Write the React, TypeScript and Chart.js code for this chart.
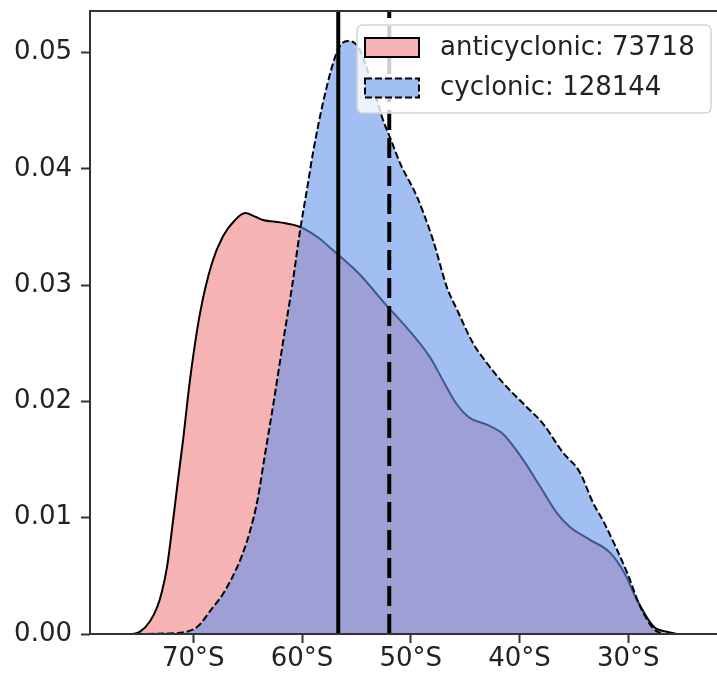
import React, { useEffect, useRef } from "react";
import { Chart, registerables } from "chart.js";

Chart.register(...registerables);

// Kernel density of eddy latitudes (degrees, negative = south)
const antiLat = [-75.55, -74.9, -73.98, -73.33, -72.9, -72.41, -72.0, -71.4, -70.94, -70.3, -69.38, -68.28, -67.27, -66.16, -65.24, -64.32, -63.59, -62.02, -60.18, -58.53, -57.15, -54.67, -52.09, -50.99, -48.23, -47.04, -45.8, -44.6, -43.0, -41.52, -39.68, -38.12, -36.56, -35.36, -33.52, -31.68, -30.39, -29.19, -27.63, -26.44, -25.52];
const antiDensity = [0, 0.0002, 0.0011, 0.0023, 0.0036, 0.0058, 0.0087, 0.0133, 0.0167, 0.0219, 0.0276, 0.0319, 0.0342, 0.0356, 0.0362, 0.0359, 0.0356, 0.0354, 0.035, 0.0341, 0.033, 0.0309, 0.0281, 0.027, 0.0238, 0.0218, 0.0198, 0.0186, 0.018, 0.0172, 0.015, 0.0127, 0.0104, 0.0092, 0.0081, 0.007, 0.0053, 0.0029, 0.0006, 0.0002, 0];

const cycLat = [-74.27, -72.15, -71.23, -69.66, -68.19, -67.3, -66.35, -65.5, -64.8, -64.1, -63.4, -62.6, -61.8, -60.9, -60.18, -59.5, -58.99, -58.07, -56.97, -56.42, -55.77, -55.13, -54.67, -53.47, -52.55, -51.91, -50.99, -49.43, -47.96, -46.67, -45.75, -44.27, -43.0, -41.52, -39.32, -37.85, -36.01, -34.45, -33.25, -32.24, -30.12, -28.92, -27.63, -26.71];
const cycDensity = [0, 0.00005, 0.0001, 0.0006, 0.0023, 0.0034, 0.005, 0.0068, 0.0088, 0.0115, 0.0155, 0.02, 0.0248, 0.03, 0.0347, 0.0385, 0.0414, 0.0457, 0.0496, 0.0507, 0.051, 0.0508, 0.0502, 0.047, 0.0442, 0.0427, 0.0405, 0.0376, 0.0339, 0.0298, 0.0279, 0.025, 0.0233, 0.0216, 0.0195, 0.0181, 0.0156, 0.0139, 0.0113, 0.0096, 0.0053, 0.0024, 0.0004, 0];

const seriesLabels = ["anticyclonic: 73718", "cyclonic: 128144"];
const meanLat = [-56.67, -51.98];

const xTicks = [-70, -60, -50, -40, -30];
const xTickLabels = ["70°S", "60°S", "50°S", "40°S", "30°S"];
const yTicks = [0, 0.01, 0.02, 0.03, 0.04, 0.05];
const yTickLabels = ["0.00", "0.01", "0.02", "0.03", "0.04", "0.05"];

const FONT = "'DejaVu Sans', sans-serif";
const FONT_SIZE = 26;
const PINK = "rgba(240,128,128,0.6)";
const BLUE = "rgba(100,149,237,0.6)";
const SPINE = "#333333";

export default function App() {
  const ref = useRef<HTMLCanvasElement | null>(null);

  useEffect(() => {
    if (!ref.current) return;

    const overlay = {
      id: "overlay",
      afterDatasetsDraw(chart: any) {
        const { ctx, chartArea: a, scales } = chart;
        const x = scales.x;
        ctx.save();
        ctx.beginPath();
        ctx.rect(a.left, a.top, a.right - a.left, a.bottom - a.top);
        ctx.clip();
        meanLat.forEach((v, i) => {
          const px = x.getPixelForValue(v);
          ctx.beginPath();
          ctx.lineWidth = 4;
          ctx.strokeStyle = "#000";
          ctx.setLineDash(i === 0 ? [] : [20, 8]);
          ctx.moveTo(px, a.bottom);
          ctx.lineTo(px, a.top);
          ctx.stroke();
        });
        ctx.restore();

        // spines
        ctx.save();
        ctx.strokeStyle = SPINE;
        ctx.lineWidth = 2;
        ctx.setLineDash([]);
        ctx.beginPath();
        ctx.moveTo(a.left, a.bottom);
        ctx.lineTo(a.left, a.top);
        ctx.lineTo(a.right, a.top);
        ctx.moveTo(a.left, a.bottom);
        ctx.lineTo(a.right, a.bottom);
        ctx.stroke();
        ctx.restore();
      },
      afterDraw(chart: any) {
        const { ctx } = chart;
        ctx.save();
        // legend frame
        const bx = 357, by = 25, bw = 354, bh = 88, r = 6;
        ctx.beginPath();
        ctx.moveTo(bx + r, by);
        ctx.lineTo(bx + bw - r, by);
        ctx.quadraticCurveTo(bx + bw, by, bx + bw, by + r);
        ctx.lineTo(bx + bw, by + bh - r);
        ctx.quadraticCurveTo(bx + bw, by + bh, bx + bw - r, by + bh);
        ctx.lineTo(bx + r, by + bh);
        ctx.quadraticCurveTo(bx, by + bh, bx, by + bh - r);
        ctx.lineTo(bx, by + r);
        ctx.quadraticCurveTo(bx, by, bx + r, by);
        ctx.closePath();
        ctx.fillStyle = "rgba(255,255,255,0.8)";
        ctx.fill();
        ctx.strokeStyle = "#d4d4d4";
        ctx.lineWidth = 1.5;
        ctx.stroke();

        const rows = [
          { y: 38, fill: PINK, dash: [] as number[], label: seriesLabels[0] },
          { y: 78.5, fill: BLUE, dash: [7, 3], label: seriesLabels[1] },
        ];
        rows.forEach((row) => {
          ctx.fillStyle = "#fff";
          ctx.fillRect(365, row.y, 54, 19);
          ctx.fillStyle = row.fill;
          ctx.fillRect(365, row.y, 54, 19);
          ctx.strokeStyle = "#000";
          ctx.lineWidth = 2;
          ctx.setLineDash(row.dash);
          ctx.strokeRect(365, row.y, 54, 19);
          ctx.setLineDash([]);
          ctx.fillStyle = "#222";
          ctx.font = `${FONT_SIZE}px ${FONT}`;
          ctx.textBaseline = "middle";
          ctx.textAlign = "left";
          ctx.fillText(row.label, 440, row.y + 10);
        });
        ctx.restore();
      },
    };

    const chart = new Chart(ref.current, {
      type: "line",
      data: {
        datasets: [
          {
            label: seriesLabels[0],
            data: antiLat.map((v, i) => ({ x: v, y: antiDensity[i] })),
            borderColor: "#000",
            borderWidth: 2,
            backgroundColor: PINK,
            fill: "origin",
            pointRadius: 0,
            cubicInterpolationMode: "monotone",
            order: 2,
          },
          {
            label: seriesLabels[1],
            data: cycLat.map((v, i) => ({ x: v, y: cycDensity[i] })),
            borderColor: "#000",
            borderWidth: 2,
            borderDash: [7, 3],
            backgroundColor: BLUE,
            fill: "origin",
            pointRadius: 0,
            cubicInterpolationMode: "monotone",
            order: 1,
          },
        ],
      },
      options: {
        responsive: false,
        animation: false,
        devicePixelRatio: 1,
        layout: { padding: { left: 0, top: 11, right: 0, bottom: 0 } },
        plugins: { legend: { display: false }, tooltip: { enabled: false } },
        scales: {
          x: {
            type: "linear",
            min: -79.5,
            max: -21.84,
            afterBuildTicks: (axis: any) => {
              axis.ticks = xTicks.map((v) => ({ value: v }));
            },
            afterFit: (axis: any) => {
              axis.height = 48;
              axis.paddingLeft = 0;
              axis.paddingRight = 0;
            },
            grid: {
              drawOnChartArea: false,
              drawTicks: true,
              tickLength: 9,
              tickWidth: 2,
              tickColor: SPINE,
            },
            border: { display: false },
            ticks: {
              padding: 1,
              maxRotation: 0,
              autoSkip: false,
              color: "#222",
              font: { family: FONT, size: FONT_SIZE },
              callback: (value: any) => {
                const i = xTicks.indexOf(Number(value));
                return i >= 0 ? xTickLabels[i] : "";
              },
            },
          },
          y: {
            type: "linear",
            min: 0,
            max: 0.05358,
            afterBuildTicks: (axis: any) => {
              axis.ticks = yTicks.map((v) => ({ value: v }));
            },
            afterFit: (axis: any) => {
              axis.width = 90;
              axis.paddingTop = 0;
              axis.paddingBottom = 0;
            },
            grid: {
              drawOnChartArea: false,
              drawTicks: true,
              tickLength: 9,
              tickWidth: 2,
              tickColor: SPINE,
            },
            border: { display: false },
            ticks: {
              padding: 9,
              autoSkip: false,
              color: "#222",
              font: { family: FONT, size: FONT_SIZE },
              callback: (value: any) => {
                const i = yTicks.findIndex((t) => Math.abs(t - Number(value)) < 1e-9);
                return i >= 0 ? yTickLabels[i] : "";
              },
            },
          },
        },
      },
      plugins: [overlay],
    } as any);

    return () => chart.destroy();
  }, []);

  return (
    <div style={{ position: "absolute", left: 0, top: 0, width: 717, height: 682, background: "#fff" }}>
      <canvas ref={ref} width={717} height={682} />
    </div>
  );
}
